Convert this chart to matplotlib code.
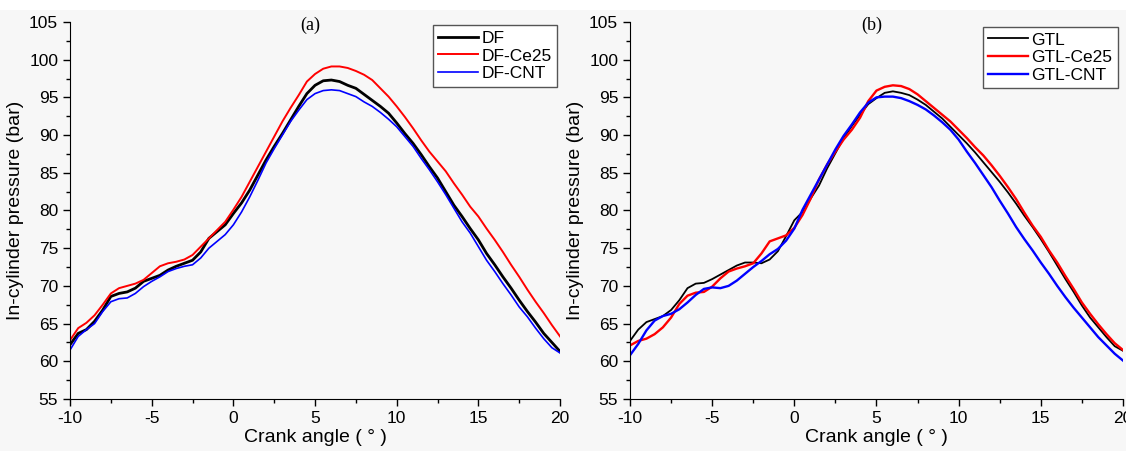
import numpy as np
import matplotlib
matplotlib.use("Agg")
import matplotlib.pyplot as plt
from matplotlib.patches import Rectangle
from matplotlib.ticker import MultipleLocator

# crank angle grid (every 0.5 deg)
crank = np.arange(-10, 20.01, 0.5)

# panel (a)
df = [62.2, 63.7, 64.2, 65.3, 66.8, 68.6, 69.0, 69.2, 69.7, 70.6,
      71.0, 71.4, 72.1, 72.6, 73.0, 73.4, 74.5, 76.3, 77.2, 78.1,
      79.6, 81.0, 82.7, 84.7, 86.7, 88.5, 90.2, 92.0, 93.8, 95.5,
      96.6, 97.2, 97.3, 97.1, 96.6, 96.2, 95.4, 94.6, 93.8, 92.9,
      91.6, 90.2, 88.9, 87.4, 85.8, 84.3, 82.5, 80.7, 79.2, 77.6,
      76.1, 74.3, 72.8, 71.2, 69.7, 68.1, 66.6, 65.2, 63.7, 62.5, 61.3]
df_ce25 = [62.8, 64.4, 65.1, 66.1, 67.5, 69.0, 69.7, 70.0, 70.3, 70.8,
           71.7, 72.6, 73.0, 73.2, 73.5, 74.1, 75.2, 76.3, 77.4, 78.5,
           80.1, 81.8, 83.8, 85.8, 87.8, 89.8, 91.8, 93.6, 95.3, 97.1,
           98.1, 98.8, 99.1, 99.1, 98.9, 98.5, 98.0, 97.3, 96.2, 95.1,
           93.8, 92.4, 90.9, 89.3, 87.8, 86.5, 85.2, 83.6, 82.1, 80.5,
           79.2, 77.6, 76.1, 74.5, 72.8, 71.2, 69.5, 67.9, 66.4, 64.8, 63.3]
df_cnt = [61.5, 63.3, 64.2, 65.0, 66.6, 67.9, 68.3, 68.4, 69.0, 69.9,
          70.6, 71.2, 71.9, 72.3, 72.6, 72.8, 73.7, 75.0, 75.9, 76.8,
          78.1, 79.8, 81.8, 84.0, 86.3, 88.2, 90.0, 91.8, 93.3, 94.7,
          95.5, 95.9, 96.0, 95.9, 95.5, 95.1, 94.4, 93.8, 93.0, 92.1,
          91.1, 89.8, 88.5, 86.9, 85.4, 83.8, 82.1, 80.3, 78.5, 77.0,
          75.2, 73.4, 71.9, 70.3, 68.8, 67.2, 65.9, 64.4, 63.0, 61.8, 61.1]

# panel (b)
gtl = [62.7, 64.2, 65.2, 65.6, 66.0, 66.8, 68.1, 69.7, 70.3, 70.4,
       70.9, 71.5, 72.1, 72.7, 73.1, 73.1, 73.0, 73.5, 74.6, 76.6,
       78.7, 79.8, 81.6, 83.3, 85.6, 87.6, 89.6, 91.2, 92.7, 94.1,
       94.9, 95.6, 95.8, 95.6, 95.3, 94.7, 94.0, 93.1, 92.2, 91.1,
       90.0, 88.9, 87.7, 86.4, 85.1, 83.8, 82.4, 80.9, 79.3, 77.8,
       76.2, 74.5, 72.7, 70.9, 69.2, 67.4, 65.8, 64.5, 63.2, 62.0, 61.4]
gtl_ce25 = [62.1, 62.7, 63.0, 63.6, 64.5, 65.8, 67.6, 68.7, 69.1, 69.2,
            69.9, 71.0, 71.9, 72.3, 72.6, 73.0, 74.3, 75.9, 76.3, 76.7,
            77.7, 79.4, 81.6, 84.1, 86.1, 87.8, 89.4, 90.7, 92.3, 94.5,
            95.9, 96.4, 96.6, 96.5, 96.1, 95.4, 94.5, 93.6, 92.7, 91.8,
            90.7, 89.6, 88.4, 87.3, 86.0, 84.6, 83.1, 81.5, 79.7, 78.0,
            76.5, 74.7, 73.1, 71.3, 69.6, 67.8, 66.3, 64.9, 63.6, 62.4, 61.5]
gtl_cnt = [60.8, 62.3, 64.1, 65.4, 66.0, 66.3, 66.9, 67.8, 68.8, 69.6,
           69.8, 69.7, 70.0, 70.7, 71.6, 72.5, 73.3, 74.2, 74.9, 76.0,
           77.6, 80.1, 82.1, 84.1, 86.1, 88.1, 89.9, 91.4, 93.0, 94.3,
           95.0, 95.1, 95.1, 94.9, 94.5, 94.0, 93.4, 92.6, 91.7, 90.7,
           89.4, 87.8, 86.3, 84.7, 83.1, 81.3, 79.6, 77.8, 76.2, 74.7,
           73.1, 71.6, 70.0, 68.5, 67.1, 65.8, 64.5, 63.2, 62.1, 61.0, 60.1]

plt.rcParams['font.family'] = ['Liberation Sans', 'DejaVu Sans']
plt.rcParams['axes.unicode_minus'] = False

fig = plt.figure(figsize=(11.26, 4.51), dpi=100, facecolor='#f7f7f7')
fig.add_artist(Rectangle((0, 0.978), 1, 0.022, transform=fig.transFigure,
                         facecolor='white', edgecolor='none'))

ax_a = fig.add_axes([0.0622, 0.1153, 0.4352, 0.836])
ax_b = fig.add_axes([0.5595, 0.1153, 0.4378, 0.836])


def style_axes(ax, tag):
    ax.set_facecolor('none')
    ax.set_xlim(-10, 20)
    ax.set_ylim(55, 105)
    ax.xaxis.set_major_locator(MultipleLocator(5))
    ax.xaxis.set_minor_locator(MultipleLocator(2.5))
    ax.yaxis.set_major_locator(MultipleLocator(5))
    ax.yaxis.set_minor_locator(MultipleLocator(2.5))
    ax.spines['top'].set_visible(False)
    ax.spines['right'].set_visible(False)
    ax.tick_params(which='major', direction='out', length=5, width=1,
                   labelsize=12.5)
    ax.tick_params(which='minor', direction='out', length=3, width=1)
    ax.set_xlabel('Crank angle ( ° )', fontsize=14, labelpad=2)
    ax.set_ylabel('In-cylinder pressure (bar)', fontsize=14, labelpad=4)
    ax.text(0.49, 1.015, tag, transform=ax.transAxes, ha='center', va='top',
            fontsize=13, family='Liberation Serif')


ax_a.plot(crank, df, color='black', lw=2.0, label='DF')
ax_a.plot(crank, df_ce25, color='#ff0000', lw=1.4, label='DF-Ce25')
ax_a.plot(crank, df_cnt, color='#0000ff', lw=1.2, label='DF-CNT')
style_axes(ax_a, '(a)')

ax_b.plot(crank, gtl, color='black', lw=1.3, label='GTL')
ax_b.plot(crank, gtl_ce25, color='#ff0000', lw=1.7, label='GTL-Ce25')
ax_b.plot(crank, gtl_cnt, color='#0000ff', lw=1.7, label='GTL-CNT')
style_axes(ax_b, '(b)')

for ax, pad in ((ax_a, 0.2), (ax_b, 0.3)):
    leg = ax.legend(loc='upper right', fontsize=12.5, fancybox=False,
                    framealpha=1, edgecolor='#555555', handlelength=2.3,
                    handletextpad=0.2, borderpad=0.3, labelspacing=0.15,
                    borderaxespad=pad)
    leg.get_frame().set_linewidth(1.0)

fig.savefig('out.png', dpi=100, facecolor=fig.get_facecolor())
